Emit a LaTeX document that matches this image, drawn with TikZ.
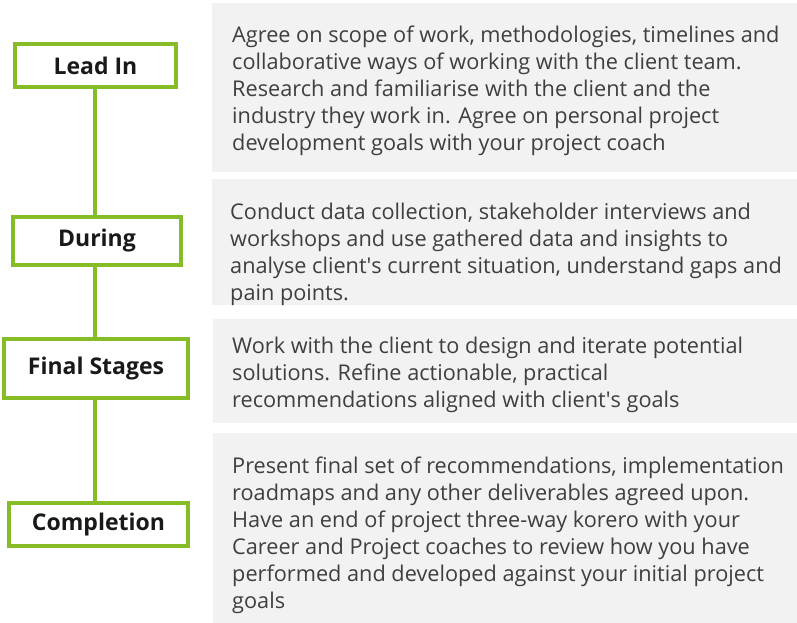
\documentclass[tikz,border=0pt]{standalone}
\usepackage{fontspec}
\setmainfont{Open Sans}
\usetikzlibrary{positioning}
\definecolor{stagegreen}{HTML}{86BC25}
\definecolor{panelgray}{HTML}{F2F2F2}
\definecolor{bodytext}{HTML}{3F3F3F}

\begin{document}
\begin{tikzpicture}[x=1pt, y=1pt,
  stage/.style={draw=stagegreen, line width=4pt, fill=white, inner sep=0pt,
                font=\fontsize{23}{27}\selectfont\bfseries, text=black!90},
  panel/.style={fill=panelgray, inner sep=0pt, anchor=north west},
  desc/.style={anchor=base west, align=left, inner sep=0pt, text=bodytext,
               font=\fontsize{21.7}{27}\selectfont},
  link/.style={draw=stagegreen, line width=4pt}
]
\useasboundingbox (0,0) rectangle (797,623);

%% Grey panels (right column)
\node[panel, minimum width=585pt, minimum height=169pt] (p1) at (212,620) {};
\node[panel, minimum width=585pt, minimum height=126pt] (p2) at (212,444) {};
\node[panel, minimum width=584pt, minimum height=104pt] (p3) at (213,304) {};
\node[panel, minimum width=584pt, minimum height=190pt] (p4) at (213,190) {};

%% Panel texts (anchored on the last line)
\node[desc] (t1) at (232,472.5) {Agree on scope of work, methodologies, timelines and\\
  collaborative ways of working with the client team.\\
  Research and familiarise with the client and the\\
  industry they work in. Agree on personal project\\
  development goals with your project coach};
\node[desc] (t2) at (230,322.5) {Conduct data collection, stakeholder interviews and\\
  workshops and use gathered data and insights to\\
  analyse client\textquotesingle s current situation, understand gaps and\\
  pain points.};
\node[desc] (t3) at (232,215.5) {Work with the client to design and iterate potential\\
  solutions. Refine actionable, practical\\
  recommendations aligned with client\textquotesingle s goals};
\node[desc] (t4) at (232,14.5) {Present final set of recommendations, implementation\\
  roadmaps and any other deliverables agreed upon.\\
  Have an end of project three-way korero with your\\
  Career and Project coaches to review how you have\\
  performed and developed against your initial project\\
  goals};

%% Stages (left column)
\node[stage, minimum width=161pt, minimum height=43pt] (lead)   at (95.5,557.5) {Lead In};
\node[stage, minimum width=168pt, minimum height=48pt] (during) at (97,382)     {During};
\node[stage, minimum width=184pt, minimum height=59pt] (final)  at (96,254.5)   {Final Stages};
\node[stage, minimum width=179pt, minimum height=43pt] (compl)  at (98.5,98.5)  {Completion};

%% Timeline
\draw[link] (lead.south -| 95,0)  -- (during.north -| 95,0);
\draw[link] (during.south -| 95,0) -- (final.north -| 95,0);
\draw[link] (final.south -| 95,0)  -- (compl.north -| 95,0);

\end{tikzpicture}
\end{document}
